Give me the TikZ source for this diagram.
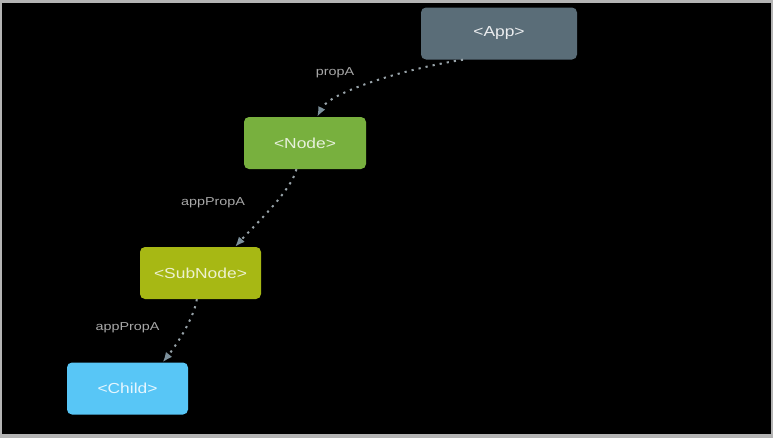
\documentclass[tikz,border=0pt]{standalone}
\usepackage{fontspec}
\setmainfont{Liberation Sans}[FakeStretch=1.2]
\newfontfamily\labelfont{Liberation Sans}[FakeStretch=1.25]
\usepackage{tikz}
\usetikzlibrary{calc}
\usetikzlibrary{positioning}
\usetikzlibrary{arrows.meta}
\definecolor{frameGrey}{HTML}{B4B4B4}
\definecolor{appFill}{HTML}{5A6D78}
\definecolor{nodeFill}{HTML}{78B03E}
\definecolor{subFill}{HTML}{A7B814}
\definecolor{childFill}{HTML}{58C6F6}
\definecolor{edgeGrey}{HTML}{98A3A9}
\definecolor{tipGrey}{HTML}{7C909B}
\definecolor{labelGrey}{HTML}{A8A8A8}
\tikzstyle{compnode} = [rectangle, rounded corners=5pt, minimum height=52pt, font=\fontsize{14.5}{16}\selectfont, align=center]
\tikzstyle{colorApp} = [fill=appFill, text=white!88!appFill, minimum width=156pt]
\tikzstyle{colorNode} = [fill=nodeFill, text=white!82!nodeFill, minimum width=122pt]
\tikzstyle{colorSub} = [fill=subFill, text=white!80!subFill, minimum width=121pt]
\tikzstyle{colorChild} = [fill=childFill, text=white!85!childFill, minimum width=121pt]
\tikzstyle{propedge} = [draw=edgeGrey, line width=2pt, dash pattern=on 2.2pt off 5pt, -{Latex[length=10pt,width=8pt,fill=tipGrey,color=tipGrey]}]
\tikzstyle{proplabel} = [text=labelGrey, font=\labelfont\fontsize{11.5}{13}\selectfont]

\begin{document}
\begin{tikzpicture}[x=1pt,y=-1pt]
\useasboundingbox (0,0) rectangle (777,442);
\fill[frameGrey] (0,0) rectangle (773,438);
\fill[black] (2,3) rectangle (771,434);

\node[compnode, colorApp] (comp_app) at (499,33.5) {<App>};
\node[compnode, colorNode] (comp_node) at ($(comp_app)+(-194,109.5)$) {<Node>};
\node[compnode, colorSub] (comp_subnode) at ($(comp_node)+(-104.5,130)$) {<SubNode>};
\node[compnode, colorChild] (comp_child) at ($(comp_subnode)+(-73,115.5)$) {<Child>};

\node[proplabel] (lbl_propA) at ($(comp_node)+(30,-70)$) {propA};
\node[proplabel] (lbl_appPropA1) at ($(comp_subnode)+(12.5,-70)$) {appPropA};
\node[proplabel] (lbl_appPropA2) at ($(comp_child)+(0,-60.5)$) {appPropA};

\draw[propedge] ($(comp_app.south west)!0.27!(comp_app.south east)$)
    .. controls +(-63,10) and +(12,-24) .. ($(comp_node.north west)!0.6!(comp_node.north east)$);
\draw[propedge] ($(comp_node.south west)!0.43!(comp_node.south east)$)
    .. controls +(-5,22) and +(16,-18) .. ($(comp_subnode.north west)!0.785!(comp_subnode.north east)$);
\draw[propedge] ($(comp_subnode.south west)!0.47!(comp_subnode.south east)$)
    .. controls +(-3,20) and +(12,-15) .. ($(comp_child.north west)!0.79!(comp_child.north east)$);
\end{tikzpicture}
\end{document}
